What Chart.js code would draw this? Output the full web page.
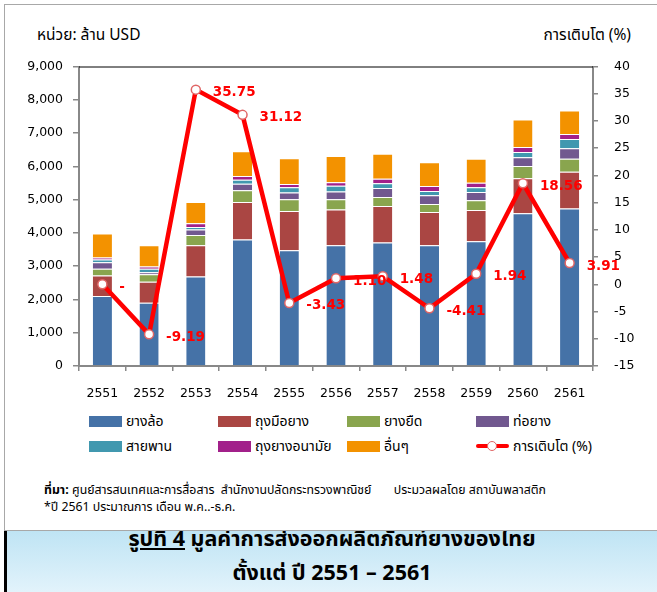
<!DOCTYPE html>
<html>
<head>
<meta charset="utf-8">
<script src="https://cdn.jsdelivr.net/npm/chart.js@4.4.1/dist/chart.umd.min.js"></script>
<style>
  body { margin: 0; width: 657px; height: 592px; background: #fff; position: relative; overflow: hidden;
         font-family: "Tahoma", "Noto Sans Thai", "Loma", "DejaVu Sans", sans-serif; }
  #frame { position: absolute; left: 3.5px; top: 3.5px; width: 660px; height: 527px;
           border: 1.5px solid #a8a8a8; box-sizing: border-box; }
  #wrap { position: absolute; left: 0; top: 43px; width: 657px; height: 362px; }
  .axis-title { position: absolute; top: 24px; font-size: 15.5px; color: #000; white-space: nowrap; }
  #legend { position: absolute; left: 89px; top: 412px; display: grid;
            grid-template-columns: repeat(4, 129px); row-gap: 7px; font-size: 14px; }
  .item { display: flex; align-items: center; height: 18px; white-space: nowrap; }
  .sw { width: 33px; height: 11px; margin-right: 4px; flex: none; position: relative; }
  .sw.line::before { content: ""; position: absolute; left: 0; right: 0; top: 3.5px; height: 4px; background: #ff0000; border-radius: 2px; }
  .sw.line::after { content: ""; position: absolute; left: 11px; top: 0; width: 8px; height: 8px; border: 1.5px solid #e06666; border-radius: 50%; background: #fff; }
  #note { position: absolute; left: 44px; top: 482px; font-size: 12.3px; line-height: 17px; color: #000; }
  #title { position: absolute; left: 4px; top: 531px; width: 653px; height: 61px; overflow: hidden;
           border-left: 3px solid #000; box-sizing: border-box;
           background: linear-gradient(#bfe4f4, #e2f3fb); text-align: center; font-weight: bold; font-size: 21.5px; color: #000; }
  #title div { position: absolute; left: 0; right: 0; }
</style>
</head>
<body>
<div id="frame"></div>
<div class="axis-title" style="left:37px">หน่วย: ล้าน USD</div>
<div class="axis-title" style="right:26px">การเติบโต (%)</div>
<div id="wrap"><canvas id="chart"></canvas></div>
<div id="legend"></div>
<div id="note">
  <div><b>ที่มา:</b> ศูนย์สารสนเทศและการสื่อสาร&nbsp; สำนักงานปลัดกระทรวงพาณิชย์ &nbsp;&nbsp;&nbsp;&nbsp;&nbsp; ประมวลผลโดย สถาบันพลาสติก</div>
  <div>*ปี 2561 ประมาณการ เดือน พ.ค..-ธ.ค.</div>
</div>
<div id="title">
  <div style="top:-8px"><u>รูปที่ 4</u> มูลค่าการส่งออกผลิตภัณฑ์ยางของไทย</div>
  <div style="top:26px">ตั้งแต่ ปี 2551 – 2561</div>
</div>
<script>
// years (Thai B.E.)
const years = ["2551", "2552", "2553", "2554", "2555", "2556", "2557", "2558", "2559", "2560", "2561"];

// export value, million USD
const tyres   = [2100, 1900, 2690, 3800, 3480, 3630, 3710, 3630, 3750, 4590, 4730];
const gloves  = [ 620,  630,  940, 1130, 1180, 1070, 1100, 1000,  940, 1050, 1110];
const elastic = [ 200,  230,  310,  350,  350,  310,  270,  240,  290,  370,  390];
const hoses   = [ 200,   60,  160,  200,  200,  230,  270,  260,  250,  260,  310];
const belts   = [  80,  100,   80,  120,  160,  180,  140,  130,  140,  160,  280];
const condoms = [  60,   70,  110,  110,  100,  100,  140,  150,  140,  150,  150];
const others  = [ 720,  640,  640,  740,  770,  790,  750,  710,  720,  830,  710];

// growth (%)
const growth = [0, -9.19, 35.75, 31.12, -3.43, 1.10, 1.48, -4.41, 1.94, 18.56, 3.91];
const growthLabels = ["-", "-9.19", "35.75", "31.12", "-3.43", "1.10", "1.48", "-4.41", "1.94", "18.56", "3.91"];

// axis ranges
const leftMin = 0, leftMax = 9000, leftStep = 1000;
const rightMin = -15, rightMax = 40, rightStep = 5;

const barSeries = [
  { label: "ยางล้อ", data: tyres, color: "#4572a7" },
  { label: "ถุงมือยาง", data: gloves, color: "#aa4643" },
  { label: "ยางยืด", data: elastic, color: "#89a54e" },
  { label: "ท่อยาง", data: hoses, color: "#71588f" },
  { label: "สายพาน", data: belts, color: "#4198af" },
  { label: "ถุงยางอนามัย", data: condoms, color: "#a2208a" },
  { label: "อื่นๆ", data: others, color: "#f39200" }
];

const tickFont = { family: "DejaVu Sans", size: 12.5 };

const datasets = barSeries.map(s => ({
  type: "bar",
  label: s.label,
  data: s.data,
  backgroundColor: s.color,
  borderColor: "rgba(255,255,255,0.55)",
  borderWidth: { top: 1 },
  borderSkipped: "bottom",
  stack: "value",
  yAxisID: "y",
  order: 1,
  barPercentage: 0.41,
  categoryPercentage: 1
}));

datasets.push({
  type: "line",
  label: "การเติบโต (%)",
  data: growth,
  yAxisID: "y1",
  borderColor: "#ff0000",
  borderWidth: 4.5,
  pointRadius: 4.5,
  pointBackgroundColor: "#ffffff",
  pointBorderColor: "#e06666",
  pointBorderWidth: 1.5,
  tension: 0,
  order: 0
});

// labels next to the growth points
const growthLabelPlugin = {
  id: "growthLabels",
  afterDatasetsDraw(chart) {
    const idx = chart.data.datasets.length - 1;
    const meta = chart.getDatasetMeta(idx);
    const ctx = chart.ctx;
    ctx.save();
    ctx.font = "bold 13.5px 'DejaVu Sans'";
    ctx.fillStyle = "#ff0000";
    ctx.textAlign = "left";
    ctx.textBaseline = "middle";
    meta.data.forEach((pt, i) => {
      ctx.fillText(growthLabels[i], pt.x + 17, pt.y + 3);
    });
    ctx.restore();
  }
};

// black line along the top of the plot area
const topBorder = {
  id: "topBorder",
  afterDraw(chart) {
    const a = chart.chartArea, ctx = chart.ctx;
    ctx.save();
    ctx.strokeStyle = "#000";
    ctx.lineWidth = 1;
    ctx.beginPath();
    ctx.moveTo(a.left, a.top + 0.5);
    ctx.lineTo(a.right, a.top + 0.5);
    ctx.stroke();
    ctx.restore();
  }
};

const chart = new Chart(document.getElementById("chart"), {
  data: { labels: years, datasets },
  options: {
    responsive: true,
    maintainAspectRatio: false,
    animation: false,
    layout: { padding: { top: 7, left: 0, right: 0, bottom: 0 } },
    plugins: { legend: { display: false }, tooltip: { enabled: false } },
    scales: {
      x: {
        stacked: true,
        offset: true,
        grid: { offset: true, drawOnChartArea: false, tickLength: 5, color: "#888", lineWidth: 1.5 },
        border: { color: "#888", width: 2 },
        ticks: { color: "#000", font: tickFont, padding: 15, maxRotation: 0 },
        afterFit(s) { s.height = 39; }
      },
      y: {
        position: "left",
        stacked: true,
        min: leftMin, max: leftMax,
        grid: { drawOnChartArea: false, tickLength: 6, color: "#888", lineWidth: 1.5 },
        border: { color: "#888", width: 2 },
        ticks: { stepSize: leftStep, color: "#000", font: tickFont, padding: 10,
                 callback: v => v.toLocaleString("en-US") },
        afterFit(s) { s.width = 79; }
      },
      y1: {
        position: "right",
        min: rightMin, max: rightMax,
        grid: { drawOnChartArea: false, tickLength: 5, color: "#888", lineWidth: 1.5 },
        border: { color: "#888", width: 2 },
        ticks: { stepSize: rightStep, color: "#000", font: tickFont, padding: 16 },
        afterFit(s) { s.width = 64; }
      }
    }
  },
  plugins: [growthLabelPlugin, topBorder]
});

// legend laid out in a 4 x 2 grid like the original
const legendEl = document.getElementById("legend");
chart.data.datasets.forEach(ds => {
  const item = document.createElement("div");
  item.className = "item";
  const sw = document.createElement("span");
  sw.className = "sw";
  if (ds.type === "line") sw.classList.add("line");
  else sw.style.background = ds.backgroundColor;
  item.appendChild(sw);
  item.appendChild(document.createTextNode(ds.label));
  legendEl.appendChild(item);
});
</script>
</body>
</html>
